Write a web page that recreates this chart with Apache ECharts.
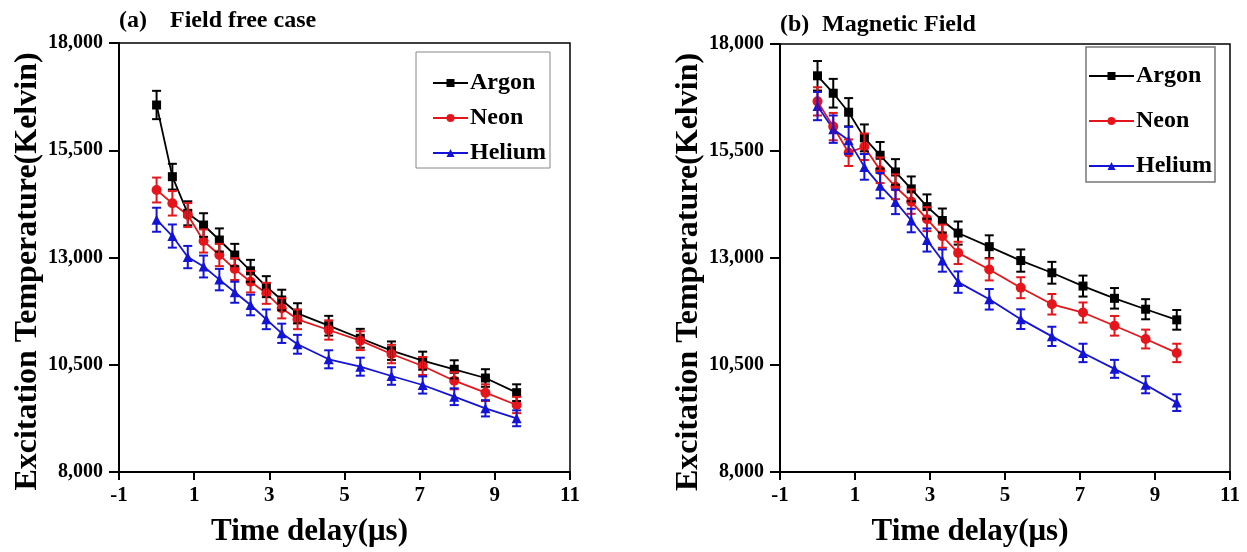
<!DOCTYPE html>
<html>
<head>
<meta charset="utf-8">
<script src="https://cdn.jsdelivr.net/npm/echarts@6/dist/echarts.min.js"></script>
<style>
html,body{margin:0;padding:0;background:#fff;}
#chart{width:1247px;height:552px;}
</style>
</head>
<body>
<div id="chart"></div>
<script>
// ---- data ----
const timeDelay = [0, 0.42, 0.83, 1.25, 1.67, 2.08, 2.5, 2.92, 3.33, 3.75, 4.58, 5.42, 6.25, 7.08, 7.92, 8.75, 9.58];
const gases = ['Argon', 'Neon', 'Helium'];

// (a) Field free case
const freeArgon  = [16555, 14884, 14030, 13757, 13408, 13058, 12690, 12320, 12009, 11699, 11410, 11117, 10828, 10595, 10394, 10191, 9849];
const freeNeon   = [14573, 14263, 13990, 13385, 13058, 12730, 12436, 12165, 11816, 11559, 11310, 11061, 10750, 10471, 10128, 9849, 9562];
const freeHelium = [13880, 13500, 13010, 12790, 12485, 12190, 11893, 11559, 11233, 10977, 10627, 10455, 10238, 10028, 9755, 9485, 9252];
const freeArgonErr  = [330, 300, 280, 275, 270, 260, 255, 245, 240, 235, 230, 220, 215, 210, 210, 205, 195];
const freeNeonErr   = [290, 285, 280, 270, 260, 255, 250, 245, 235, 230, 225, 220, 215, 210, 200, 195, 190];
const freeHeliumErr = [280, 270, 260, 255, 250, 245, 240, 230, 225, 220, 210, 210, 205, 200, 195, 190, 185];

// (b) Magnetic Field
const magArgon  = [17257, 16850, 16406, 15806, 15400, 15010, 14615, 14201, 13876, 13583, 13265, 12940, 12655, 12344, 12058, 11803, 11555];
const magNeon   = [16660, 16070, 15460, 15600, 15050, 14665, 14317, 13908, 13510, 13119, 12731, 12306, 11919, 11726, 11416, 11107, 10782];
const magHelium = [16550, 16010, 15749, 15129, 14690, 14310, 13876, 13420, 12940, 12437, 12035, 11571, 11169, 10782, 10410, 10039, 9621];
const magArgonErr  = [345, 335, 330, 315, 310, 300, 290, 285, 280, 270, 265, 260, 255, 245, 240, 235, 230];
const magNeonErr   = [330, 320, 310, 310, 300, 290, 285, 280, 270, 260, 255, 245, 240, 235, 230, 220, 215];
const magHeliumErr = [330, 320, 315, 300, 295, 285, 275, 270, 260, 250, 240, 230, 225, 215, 210, 200, 195];

const xTicks = [-1, 1, 3, 5, 7, 9, 11];
const yTicks = [8000, 10500, 13000, 15500, 18000];

const panelTitles = [['(a)', 'Field free case'], ['(b)', 'Magnetic Field']];
const xName = 'Time delay(\u03bcs)';
const yName = 'Excitation Temperature(Kelvin)';

// ---- styling ----
const FONT = '"Liberation Serif", "Times New Roman", serif';
const colors = {Argon: '#000000', Neon: '#e5161b', Helium: '#1414d6'};
const symbols = {Argon: 'rect', Neon: 'circle', Helium: 'triangle'};
const symbolSizes = {Argon: 9, Neon: 10, Helium: 10};

const panels = [
  {vals: [freeArgon, freeNeon, freeHelium], errs: [freeArgonErr, freeNeonErr, freeHeliumErr]},
  {vals: [magArgon, magNeon, magHelium], errs: [magArgonErr, magNeonErr, magHeliumErr]}
];

const grids = [
  {left: 119, top: 43, width: 451, height: 429},
  {left: 780, top: 44, width: 450, height: 429}
];

function makeX(i) {
  return {
    type: 'value', gridIndex: i,
    min: xTicks[0], max: xTicks[xTicks.length - 1], interval: xTicks[1] - xTicks[0],
    name: xName, nameLocation: 'middle', nameGap: 44,
    nameTextStyle: {fontFamily: FONT, fontWeight: 'bold', fontSize: 31, color: '#000', padding: [0, 70, 0, 0]},
    axisLine: {show: true, onZero: false, lineStyle: {color: '#000', width: 2}},
    axisTick: {show: true, length: 8, inside: false, lineStyle: {color: '#000', width: 2}},
    axisLabel: {fontFamily: FONT, fontWeight: 'bold', fontSize: 21, color: '#000', margin: 13},
    splitLine: {show: false}
  };
}
function makeY(i) {
  return {
    type: 'value', gridIndex: i,
    min: yTicks[0], max: yTicks[yTicks.length - 1], interval: yTicks[1] - yTicks[0],
    name: yName, nameLocation: 'middle', nameGap: 74,
    nameTextStyle: {fontFamily: FONT, fontWeight: 'bold', fontSize: 32, color: '#000', padding: [0, 28, 0, 0]},
    axisLine: {show: true, onZero: false, lineStyle: {color: '#000', width: 2}},
    axisTick: {show: true, length: 10, inside: false, lineStyle: {color: '#000', width: 2}},
    axisLabel: {fontFamily: FONT, fontWeight: 'bold', fontSize: 20, color: '#000', margin: 16,
      formatter: v => Number(v).toLocaleString('en-US')},
    splitLine: {show: false}
  };
}

function errRender(color) {
  return function (params, api) {
    const x = api.value(0), y = api.value(1), e = api.value(2);
    const top = api.coord([x, y + e]);
    const bot = api.coord([x, y - e]);
    const cw = 4.5;
    const style = {stroke: color, lineWidth: 2, fill: null};
    return {
      type: 'group',
      children: [
        {type: 'line', shape: {x1: top[0], y1: top[1], x2: bot[0], y2: bot[1]}, style: style},
        {type: 'line', shape: {x1: top[0] - cw, y1: top[1], x2: top[0] + cw, y2: top[1]}, style: style},
        {type: 'line', shape: {x1: bot[0] - cw, y1: bot[1], x2: bot[0] + cw, y2: bot[1]}, style: style}
      ]
    };
  };
}

const series = [];
panels.forEach((p, pi) => {
  gases.forEach((g, gi) => {
    series.push({
      type: 'line', name: g, xAxisIndex: pi, yAxisIndex: pi,
      data: timeDelay.map((t, k) => [t, p.vals[gi][k]]),
      symbol: symbols[g], symbolSize: symbolSizes[g],
      lineStyle: {color: colors[g], width: 1.8},
      itemStyle: {color: colors[g]},
      z: 3, animation: false
    });
  });
  gases.forEach((g, gi) => {
    series.push({
      type: 'custom', name: g + ' error', xAxisIndex: pi, yAxisIndex: pi,
      data: timeDelay.map((t, k) => [t, p.vals[gi][k], p.errs[gi][k]]),
      encode: {x: 0, y: 1},
      renderItem: errRender(colors[g]),
      z: 4, animation: false, silent: true
    });
  });
});

const titleStyle = {fontFamily: FONT, fontWeight: 'bold', fontSize: 24, color: '#000'};
const option = {
  backgroundColor: '#fff',
  animation: false,
  title: [
    {text: panelTitles[0][0], left: 119, top: 9, padding: 0, textStyle: titleStyle},
    {text: panelTitles[0][1], left: 170, top: 9, padding: 0, textStyle: titleStyle},
    {text: panelTitles[1][0], left: 780, top: 13, padding: 0, textStyle: titleStyle},
    {text: panelTitles[1][1], left: 822, top: 13, padding: 0, textStyle: titleStyle}
  ],
  grid: grids.map(g => Object.assign({show: true, borderColor: '#000', borderWidth: 1.5, backgroundColor: 'transparent'}, g)),
  xAxis: [makeX(0), makeX(1)],
  yAxis: [makeY(0), makeY(1)],
  legend: [
    {
      data: gases, orient: 'vertical', left: 416, top: 52,
      padding: [19, 4, 3, 16], itemGap: 11, itemWidth: 35, itemHeight: 10,
      borderColor: '#888', borderWidth: 1,
      textStyle: {fontFamily: FONT, fontWeight: 'bold', fontSize: 24, color: '#000', padding: [0, 0, 0, -3]},
      selectedMode: false
    },
    {
      data: gases, orient: 'vertical', left: 1086, top: 47,
      padding: [17, 3, 4, 2], itemGap: 21, itemWidth: 45, itemHeight: 10,
      borderColor: '#777', borderWidth: 1.5,
      textStyle: {fontFamily: FONT, fontWeight: 'bold', fontSize: 24, color: '#000', padding: [0, 0, 0, -3]},
      selectedMode: false
    }
  ],
  series: series
};

const chart = echarts.init(document.getElementById('chart'), null, {renderer: 'canvas'});
chart.setOption(option);
</script>
</body>
</html>
